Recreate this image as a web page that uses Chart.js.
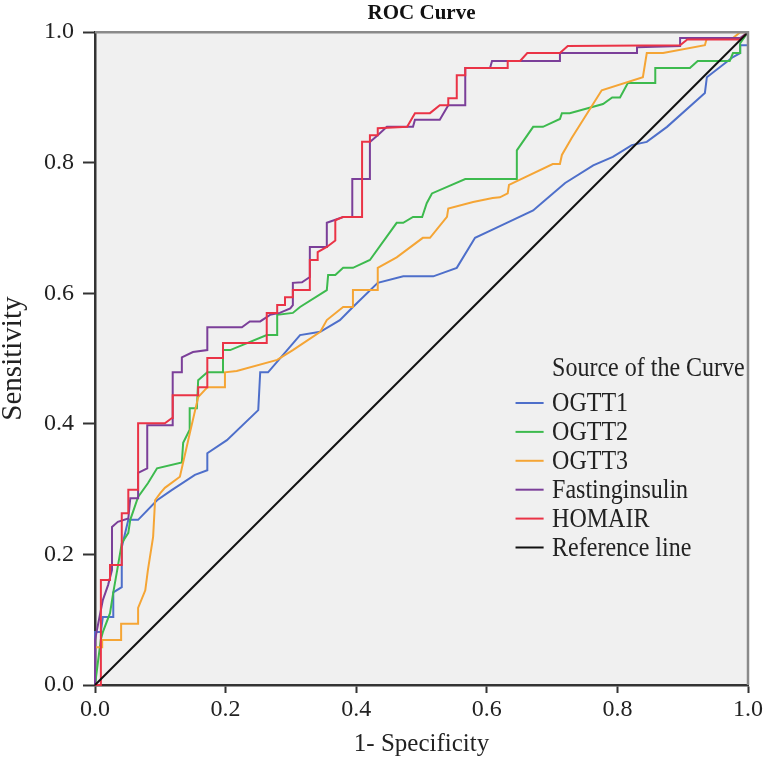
<!DOCTYPE html>
<html><head><meta charset="utf-8">
<script src="https://cdn.jsdelivr.net/npm/chart.js@4.4.1/dist/chart.umd.min.js"></script>
<style>html,body{margin:0;padding:0;background:#fff;}#wrap{width:766px;height:765px;}</style>
</head><body><div id="wrap"><canvas id="c" width="766" height="765"></canvas></div>
<script>
const chartTitle = 'ROC Curve';
const xTitle = '1- Specificity';
const yTitle = 'Sensitivity';
const legendTitle = 'Source of the Curve';
const seriesNames = ['OGTT1', 'OGTT2', 'OGTT3', 'Fastinginsulin', 'HOMAIR', 'Reference line'];
const tickValues = [0, 0.2, 0.4, 0.6, 0.8, 1.0];

const ogtt1X = [0,0,0.009,0.012,0.028,0.028,0.041,0.041,0.051,0.066,0.095,0.118,0.153,0.172,0.172,0.202,0.250,0.253,0.265,0.314,0.345,0.375,0.395,0.433,0.472,0.518,0.554,0.582,0.616,0.671,0.686,0.720,0.763,0.793,0.822,0.845,0.876,0.934,0.937,0.977,0.988,0.988,1,1];
const ogtt1Y = [0,0.081,0.081,0.104,0.104,0.142,0.150,0.211,0.253,0.253,0.283,0.299,0.322,0.329,0.355,0.375,0.421,0.479,0.479,0.536,0.541,0.559,0.579,0.616,0.626,0.626,0.639,0.685,0.701,0.727,0.740,0.769,0.796,0.809,0.827,0.832,0.855,0.907,0.931,0.962,0.968,0.980,0.980,1];

const ogtt2X = [0,0.009,0.012,0.023,0.028,0.034,0.041,0.051,0.054,0.066,0.081,0.095,0.133,0.135,0.145,0.145,0.156,0.158,0.172,0.196,0.196,0.207,0.263,0.279,0.279,0.303,0.314,0.355,0.357,0.368,0.380,0.395,0.421,0.462,0.472,0.487,0.501,0.508,0.516,0.567,0.645,0.646,0.671,0.686,0.712,0.715,0.727,0.778,0.792,0.804,0.816,0.858,0.858,0.911,0.923,0.972,0.977,0.988,0.988,1];
const ogtt2Y = [0,0.070,0.081,0.110,0.142,0.176,0.217,0.233,0.253,0.288,0.309,0.332,0.341,0.371,0.391,0.424,0.424,0.467,0.479,0.479,0.513,0.513,0.536,0.536,0.567,0.570,0.579,0.605,0.628,0.628,0.639,0.639,0.651,0.708,0.708,0.717,0.717,0.738,0.753,0.775,0.775,0.819,0.855,0.855,0.867,0.876,0.876,0.890,0.900,0.900,0.922,0.922,0.945,0.945,0.956,0.956,0.968,0.968,0.983,1];

const ogtt3X = [0,0,0.011,0.011,0.040,0.040,0.066,0.066,0.077,0.081,0.089,0.092,0.100,0.107,0.130,0.145,0.158,0.172,0.199,0.199,0.217,0.279,0.303,0.345,0.355,0.380,0.395,0.395,0.433,0.433,0.462,0.502,0.513,0.539,0.541,0.579,0.609,0.620,0.632,0.634,0.701,0.712,0.715,0.730,0.776,0.839,0.845,0.870,0.934,0.937,0.977,0.988,1];
const ogtt3Y = [0,0.058,0.058,0.069,0.069,0.094,0.094,0.118,0.145,0.176,0.227,0.283,0.294,0.302,0.319,0.385,0.441,0.456,0.456,0.479,0.481,0.498,0.513,0.541,0.559,0.579,0.579,0.605,0.605,0.639,0.655,0.685,0.685,0.717,0.730,0.740,0.746,0.747,0.753,0.766,0.798,0.798,0.812,0.838,0.911,0.931,0.968,0.968,0.980,0.991,0.991,1,1];

const fastingX = [0,0,0.012,0.020,0.026,0.026,0.035,0.051,0.054,0.066,0.066,0.080,0.080,0.119,0.119,0.133,0.133,0.150,0.172,0.172,0.225,0.237,0.253,0.268,0.283,0.299,0.303,0.303,0.317,0.329,0.329,0.355,0.355,0.380,0.394,0.394,0.421,0.421,0.433,0.447,0.487,0.490,0.528,0.541,0.567,0.567,0.605,0.608,0.712,0.712,0.830,0.830,0.896,0.896,0.988,1];
const fastingY = [0,0.069,0.130,0.153,0.176,0.242,0.250,0.255,0.286,0.286,0.325,0.332,0.398,0.398,0.479,0.479,0.502,0.510,0.513,0.548,0.548,0.557,0.557,0.567,0.570,0.577,0.582,0.616,0.617,0.625,0.671,0.671,0.708,0.717,0.717,0.775,0.775,0.832,0.842,0.855,0.855,0.866,0.866,0.888,0.888,0.945,0.945,0.956,0.956,0.968,0.968,0.977,0.979,0.991,0.991,1];

const homaX = [0,0.009,0.009,0.023,0.023,0.041,0.041,0.051,0.051,0.066,0.066,0.107,0.118,0.119,0.158,0.158,0.172,0.172,0.196,0.196,0.263,0.263,0.279,0.279,0.291,0.291,0.303,0.303,0.329,0.329,0.341,0.341,0.355,0.368,0.368,0.380,0.409,0.409,0.421,0.421,0.433,0.433,0.478,0.490,0.513,0.528,0.541,0.541,0.554,0.554,0.567,0.567,0.632,0.632,0.651,0.662,0.712,0.724,0.896,0.907,0.988,1];
const homaY = [0,0,0.161,0.161,0.184,0.184,0.263,0.263,0.299,0.299,0.401,0.401,0.409,0.444,0.444,0.456,0.456,0.501,0.501,0.524,0.524,0.570,0.570,0.582,0.582,0.594,0.594,0.605,0.605,0.651,0.651,0.663,0.671,0.681,0.712,0.717,0.717,0.832,0.832,0.842,0.842,0.853,0.855,0.876,0.876,0.888,0.888,0.899,0.899,0.934,0.934,0.945,0.945,0.956,0.956,0.968,0.968,0.979,0.980,0.989,0.989,1];

const refX = [0, 1];
const refY = [0, 1];

const seriesColors = ['#4e6fca', '#3dba4e', '#f5a535', '#7b3f99', '#ea3346', '#111111'];

function pts(xs, ys) { return xs.map((x, i) => ({ x: x, y: ys[i] })); }
const seriesData = [pts(ogtt1X, ogtt1Y), pts(ogtt2X, ogtt2Y), pts(ogtt3X, ogtt3Y), pts(fastingX, fastingY), pts(homaX, homaY), pts(refX, refY)];
const drawOrder = [5, 4, 3, 2, 1, 0];

const serif = "'Liberation Serif', 'Times New Roman', serif";

function stretchedText(ctx, text, x, y) {
  ctx.save();
  ctx.translate(x, y);
  ctx.scale(1, 1.18);
  ctx.fillText(text, 0, 0);
  ctx.restore();
}

const framePlugin = {
  id: 'frame',
  beforeDraw(chart) {
    const { ctx, chartArea: a } = chart;
    ctx.save();
    ctx.fillStyle = '#f0f0f0';
    ctx.fillRect(a.left, a.top, a.right - a.left, a.bottom - a.top);
    ctx.restore();
  },
  afterDatasetsDraw(chart) {
    const { ctx, chartArea: a } = chart;
    ctx.save();
    ctx.strokeStyle = '#8a8a8a';
    ctx.lineWidth = 2.5;
    ctx.beginPath();
    ctx.moveTo(a.left, a.top);
    ctx.lineTo(a.right, a.top);
    ctx.lineTo(a.right, a.bottom);
    ctx.stroke();
    const x0 = chart.scales.x.getPixelForValue(0.644);
    const xt = chart.scales.x.getPixelForValue(0.7);
    const x1 = chart.scales.x.getPixelForValue(0.687);
    const yTitlePx = chart.scales.y.getPixelForValue(0.485);
    const yFirst = chart.scales.y.getPixelForValue(0.432);
    const step = 28.9;
    ctx.font = '24px ' + serif;
    ctx.textBaseline = 'middle';
    ctx.textAlign = 'left';
    ctx.fillStyle = '#222';
    stretchedText(ctx, legendTitle, xt, yTitlePx);
    seriesNames.forEach((n, i) => {
      const y = yFirst + i * step;
      ctx.strokeStyle = seriesColors[i];
      ctx.lineWidth = 2;
      ctx.beginPath();
      ctx.moveTo(x0, y);
      ctx.lineTo(x1, y);
      ctx.stroke();
      ctx.fillStyle = '#222';
      stretchedText(ctx, n, xt, y + 1);
    });
    ctx.restore();
  }
};

new Chart(document.getElementById('c'), {
  type: 'scatter',
  data: {
    datasets: seriesNames.map((n, i) => ({
      label: n,
      data: seriesData[i],
      showLine: true,
      borderColor: seriesColors[i],
      backgroundColor: seriesColors[i],
      borderWidth: 2,
      pointRadius: 0,
      tension: 0,
      clip: 4,
      order: drawOrder[i]
    }))
  },
  options: {
    responsive: false,
    animation: false,
    devicePixelRatio: 1,
    layout: { padding: { left: 0, right: 18, top: 0, bottom: 0 } },
    plugins: {
      legend: { display: false },
      tooltip: { enabled: false },
      title: {
        display: true, text: chartTitle, fullSize: false,
        font: { family: serif, size: 21, weight: 'bold', lineHeight: 1.2 },
        color: '#111', padding: { top: 1, bottom: 6 }
      }
    },
    scales: {
      x: {
        type: 'linear', min: 0, max: 1,
        afterFit(s) { s.height = 80; },
        afterBuildTicks(s) { s.ticks = tickValues.map(v => ({ value: v })); },
        ticks: { font: { family: serif, size: 24 }, color: '#222', padding: 2, maxRotation: 0, callback: v => v.toFixed(1) },
        grid: { drawOnChartArea: false, drawTicks: true, tickLength: 8, tickColor: '#333', tickWidth: 2 },
        border: { display: true, color: '#333', width: 2.5 },
        title: { display: true, text: xTitle, font: { family: serif, size: 25, lineHeight: 1.2 }, color: '#222', padding: { top: 0, bottom: 6 } }
      },
      y: {
        type: 'linear', min: 0, max: 1,
        afterFit(s) { s.width = 95; },
        afterBuildTicks(s) { s.ticks = tickValues.map(v => ({ value: v })); },
        ticks: { font: { family: serif, size: 24 }, color: '#222', padding: 9, callback: v => v.toFixed(1) },
        grid: { drawOnChartArea: false, drawTicks: true, tickLength: 12, tickColor: '#333', tickWidth: 2 },
        border: { display: true, color: '#333', width: 2.5 },
        title: { display: true, text: yTitle, font: { family: serif, size: 29, lineHeight: 0.9 }, color: '#222', padding: { top: 0, bottom: 0 } }
      }
    }
  },
  plugins: [framePlugin]
});
</script>
</body></html>
